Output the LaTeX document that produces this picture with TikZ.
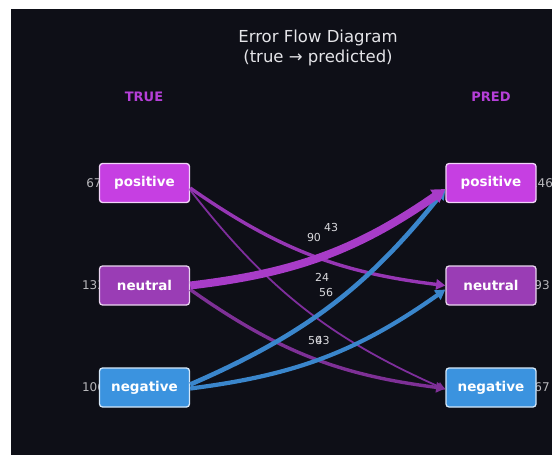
\documentclass[tikz,border=0pt]{standalone}
\usepackage{fontspec}
\setmainfont{DejaVu Sans}
\usetikzlibrary{arrows.meta}
\definecolor{bgc}{HTML}{0E0F17}
\definecolor{posc}{HTML}{C63FE2}
\definecolor{neuc}{HTML}{9A3DB5}
\definecolor{negc}{HTML}{3B93DF}
\definecolor{hdrc}{HTML}{B53FD8}
\definecolor{titc}{HTML}{E4E4E8}
\definecolor{cntc}{HTML}{B8B8BC}
\definecolor{labc}{HTML}{D8D8DC}
\definecolor{eA}{HTML}{A83CC8}
\definecolor{eB}{HTML}{9636B4}
\definecolor{eC}{HTML}{7E2E9C}
\definecolor{eD}{HTML}{7E3096}
\definecolor{eE}{HTML}{3A86CC}
\begin{document}
\begin{tikzpicture}[x=1pt,y=-1pt,
  box/.style={draw=#1!22!white, fill=#1, line width=1.3pt, rounded corners=3pt,
    minimum width=90pt, minimum height=39pt, inner sep=0pt, text=white,
    font=\bfseries\fontsize{13.5}{16}\selectfont},
  cnt/.style={text=cntc, font=\fontsize{12}{14}\selectfont, inner sep=0pt},
  elab/.style={text=labc, font=\fontsize{11}{13}\selectfont, inner sep=0pt},
  hdr/.style={text=hdrc, font=\bfseries\fontsize{13}{15}\selectfont, inner sep=0pt},
  flow/.style={draw=#1, line cap=butt, -{Triangle[length=6.5pt 0.8, width=6.5pt 1.1]}}
]
\fill[white] (0,0) rectangle (552,455);
\fill[bgc] (11,9) rectangle (552,455);
\useasboundingbox (0,0) rectangle (552,455);

\node[text=titc, font=\fontsize{16.5}{20}\selectfont, align=center, inner sep=0pt] (title) at (318,48)
  {Error Flow Diagram\\(true → predicted)};
\node[hdr] (htrue) at (144,97) {TRUE};
\node[hdr] (hpred) at (491,97) {PRED};

% counts (behind boxes)
\node[cnt] (clp) at (94,183) {67};
\node[cnt] (cln) at (93.5,285.5) {133};
\node[cnt] (clg) at (93.5,387.5) {106};
\node[cnt] (crp) at (541.5,183) {146};
\node[cnt] (crn) at (542,285.5) {93};
\node[cnt] (crg) at (542,387.5) {67};

% boxes
\node[box=posc] (lp) at (144.5,183) {positive};
\node[box=neuc] (ln) at (144.5,285.5) {neutral};
\node[box=negc] (lg) at (144.5,387.5) {negative};
\node[box=posc] (rp) at (491,183) {positive};
\node[box=neuc] (rn) at (491,285.5) {neutral};
\node[box=negc] (rg) at (491,387.5) {negative};

% flows
\draw[flow=eC, line width=1.8pt] ([yshift=-7pt]lp.east) to[bend right=14] ([yshift=-2pt]rg.west);
\draw[flow=eD, line width=3.4pt] ([yshift=-4pt]ln.east) to[bend right=14] ([yshift=-1pt]rg.west);
\draw[flow=eB, line width=3.4pt] ([yshift=-5pt]lp.east) to[bend right=14] ([yshift=0pt]rn.west);
\draw[flow=eE, line width=4.2pt] ([yshift=-1pt]lg.east) to[bend right=14] ([yshift=-4pt]rn.west);
\draw[flow=eE, line width=4.6pt] ([yshift=3pt]lg.east) to[bend right=14] ([yshift=-6pt]rp.west);
\draw[flow=eA, line width=8pt] ([yshift=0pt]ln.east) to[bend right=14] ([yshift=-6pt]rp.west);

% flow labels
\node[elab] (l90) at (314,237) {90};
\node[elab] (l43a) at (331,227) {43};
\node[elab] (l24) at (322,277) {24};
\node[elab] (l56) at (326,292) {56};
\node[elab] (l50) at (315,340) {50};
\node[elab] (l43b) at (322.5,340) {43};
\end{tikzpicture}
\end{document}
